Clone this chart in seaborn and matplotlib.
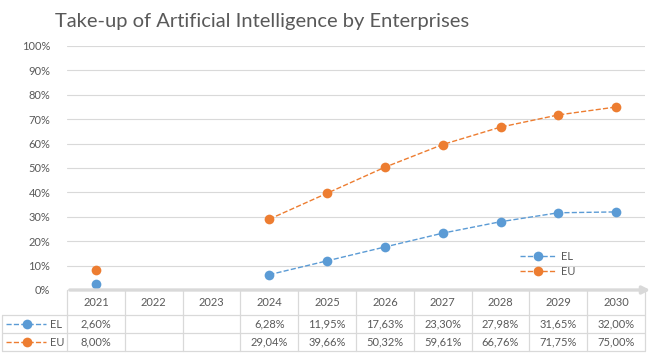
import numpy as np
import pandas as pd
import matplotlib.pyplot as plt
from matplotlib.lines import Line2D
import seaborn as sns

# --- data ---
years = ['2021', '2022', '2023', '2024', '2025', '2026', '2027', '2028', '2029', '2030']
el = [2.60, np.nan, np.nan, 6.28, 11.95, 17.63, 23.30, 27.98, 31.65, 32.00]
eu = [8.00, np.nan, np.nan, 29.04, 39.66, 50.32, 59.61, 66.76, 71.75, 75.00]
series_names = ['EL', 'EU']
colors = {'EL': '#5B9BD5', 'EU': '#ED7D31'}

df = pd.DataFrame({'year': years, 'pos': range(len(years)), 'EL': el, 'EU': eu})

W, H = 657, 354
GRAY = '#595959'
GRID = '#D9D9D9'

def fx(x):
    return x / W

def fy(y):
    return 1 - y / H

sns.set_theme(style='white')
plt.rcParams['font.family'] = ['Lato', 'DejaVu Sans']

fig = plt.figure(figsize=(W / 100, H / 100), dpi=100)

# plot area
left, right, top, bottom = 67, 645, 46, 290
ax = fig.add_axes([fx(left), fy(bottom), fx(right) - fx(left), fy(top) - fy(bottom)])

for name in series_names:
    d = df[['pos', name]].copy()
    d['seg'] = d[name].isna().cumsum()
    d = d.dropna()
    for _, seg in d.groupby('seg'):
        sns.lineplot(data=seg, x='pos', y=name, ax=ax, color=colors[name],
                     linestyle='--', linewidth=1.0, marker='o', markersize=7,
                     markeredgewidth=0, label=None)

ax.set_xlim(-0.5, len(years) - 0.5)
ax.set_ylim(0, 100)
ax.set_yticks(range(0, 101, 10))
ax.set_yticklabels([f'{t}%' for t in range(0, 101, 10)], color=GRAY, fontsize=8)
ax.set_xticks([])
ax.set_xlabel('')
ax.set_ylabel('')
ax.tick_params(axis='y', length=0, pad=12)
ax.grid(axis='y', color=GRID, linewidth=0.8)
ax.set_axisbelow(True)
for s in ax.spines.values():
    s.set_visible(False)

# legend inside the plot
handles = [Line2D([], [], color=colors[n], linestyle='--', linewidth=1.0, marker='o',
                  markersize=7, markeredgewidth=0) for n in series_names]
ax.legend(handles, series_names, loc='center left', bbox_to_anchor=(fx(510), fy(264)),
          bbox_transform=fig.transFigure, frameon=False, fontsize=8, labelcolor=GRAY,
          handlelength=3.2, labelspacing=0.35, handletextpad=0.5)

# title
fig.text(fx(55), fy(22), 'Take-up of Artificial Intelligence by Enterprises',
         fontsize=14.5, color=GRAY, va='center', ha='left')

# data table beneath the axis
tab = fig.add_axes([0, 0, 1, 1], facecolor='none')
tab.set_xlim(0, W)
tab.set_ylim(H, 0)
tab.axis('off')

cell_w = (right - left) / len(years)
row_y = [290, 315, 333, 351]
row_mid = [(row_y[i] + row_y[i + 1]) / 2 for i in range(3)]

# horizontal rules
for y in row_y[1:]:
    tab.plot([2, right], [y, y], color=GRID, lw=0.9, solid_capstyle='butt')
# vertical rules
tab.plot([2, 2], [row_y[1], row_y[3]], color=GRID, lw=0.9)
for i in range(len(years) + 1):
    x = left + i * cell_w
    tab.plot([x, x], [row_y[0], row_y[3]], color=GRID, lw=0.9)

# category axis line with arrow
tab.annotate('', xy=(653, 290), xytext=(left, 290),
             arrowprops=dict(arrowstyle='-|>', color=GRID, lw=2.4, mutation_scale=11))

for i, yr in enumerate(years):
    cx = left + (i + 0.5) * cell_w
    tab.text(cx, row_mid[0], yr, ha='center', va='center', fontsize=8, color=GRAY)
    for r, name in enumerate(series_names):
        v = df[name].iloc[i]
        if not np.isnan(v):
            tab.text(cx, row_mid[r + 1], f'{v:.2f}%'.replace('.', ','), ha='center',
                     va='center', fontsize=8, color=GRAY)

# legend keys in the table's first column
for r, name in enumerate(series_names):
    y = row_mid[r + 1]
    tab.add_line(Line2D([6, 46], [y, y], color=colors[name], linestyle='--', lw=1.0))
    tab.add_line(Line2D([27], [y], color=colors[name], marker='o', markersize=7,
                        markeredgewidth=0))
    tab.text(50, y, name, ha='left', va='center', fontsize=8, color=GRAY)

fig.savefig('out.png', dpi=100)
